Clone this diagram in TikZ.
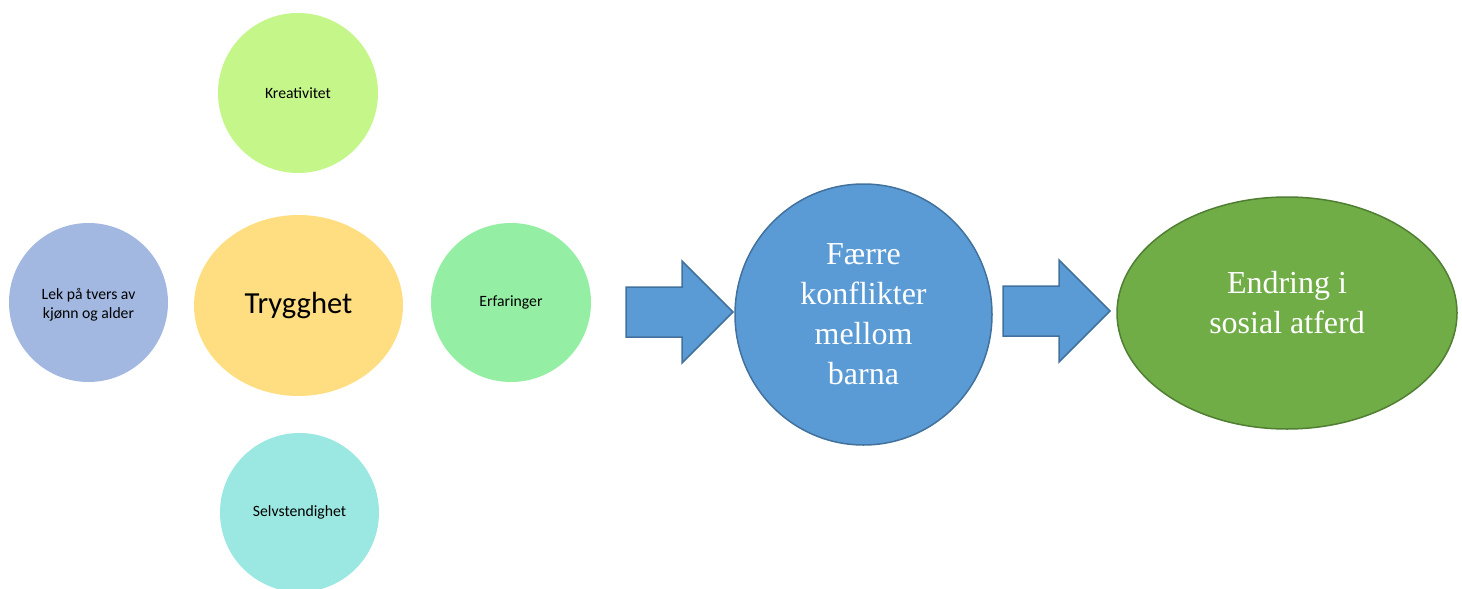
\documentclass[tikz,border=0pt]{standalone}
\usepackage{fontspec}
\setmainfont{Liberation Serif}
\newfontfamily\calfont{Carlito}
\usetikzlibrary{shapes.geometric}
\definecolor{lekblue}{HTML}{A2B8E1}
\definecolor{trygyellow}{HTML}{FFDE82}
\definecolor{kreagreen}{HTML}{C4F68A}
\definecolor{erfgreen}{HTML}{94EFA4}
\definecolor{selvcyan}{HTML}{9AE8E1}
\definecolor{midblue}{HTML}{5B9BD5}
\definecolor{midblueline}{HTML}{41719C}
\definecolor{leafgreen}{HTML}{70AD47}
\definecolor{leafline}{HTML}{507E32}
\tikzset{
  bubble/.style={ellipse, inner sep=0pt, draw=none, align=center,
    font=\calfont\fontsize{15.7}{19}\selectfont, text=black},
  bigbubble/.style={ellipse, inner sep=0pt, line width=1.5pt, align=center,
    font=\fontsize{32}{40}\selectfont, text=white},
  blockarrow/.style={fill=midblue, draw=midblueline, line width=1.5pt, line join=miter}
}
\begin{document}
\begin{tikzpicture}[x=1pt,y=-1pt]
\useasboundingbox (0,0) rectangle (1462,589);
\clip (0,0) rectangle (1462,589);

% cluster of qualities around the central node
\node[bubble, fill=kreagreen, minimum width=160pt, minimum height=160pt] (krea) at (298,93) {Kreativitet};
\node[bubble, fill=lekblue, minimum width=159pt, minimum height=159pt] (lek) at (88.5,302.5) {};
\node[bubble, inner sep=0pt] (lektxt) at ([yshift=-2pt]lek.center) {Lek på tvers av\\kjønn og alder};
\node[bubble, fill=trygyellow, minimum width=209pt, minimum height=181pt,
      font=\calfont\fontsize{30.6}{36}\selectfont] (tryg) at (298.5,305.5) {Trygghet};
\node[bubble, fill=erfgreen, minimum width=160pt, minimum height=159pt] (erf) at (511,302.5) {Erfaringer};
\node[bubble, fill=selvcyan, minimum width=159pt, minimum height=159pt] (selv) at (299.5,512.5) {Selvstendighet};

% outcome nodes
\node[bigbubble, fill=midblue, draw=midblueline, minimum width=257pt, minimum height=261pt] (faerre) at (863.5,314.5)
  {Færre\\konflikter\\mellom\\barna};
\node[bigbubble, fill=leafgreen, draw=leafline, minimum width=340pt, minimum height=232pt] (endring) at (1287,313) {};
\node[font=\fontsize{32}{40}\selectfont, text=white, align=center, inner sep=0pt] (endringtxt)
  at ([yshift=10pt]endring.center) {Endring i\\sosial atferd};

% block arrows between the stages
\coordinate (a1) at (626,312);
\coordinate (a2) at (1003,311.5);
\draw[blockarrow] (a1) ++(0,-25) -- ++(56,0) -- ++(0,-26) -- ++(51,51) -- ++(-51,51) -- ++(0,-26) -- ++(-56,0) -- cycle;
\draw[blockarrow] (a2) ++(0,-25.5) -- ++(56,0) -- ++(0,-26) -- ++(51,51) -- ++(-51,51) -- ++(0,-26) -- ++(-56,0) -- cycle;
\end{tikzpicture}
\end{document}
